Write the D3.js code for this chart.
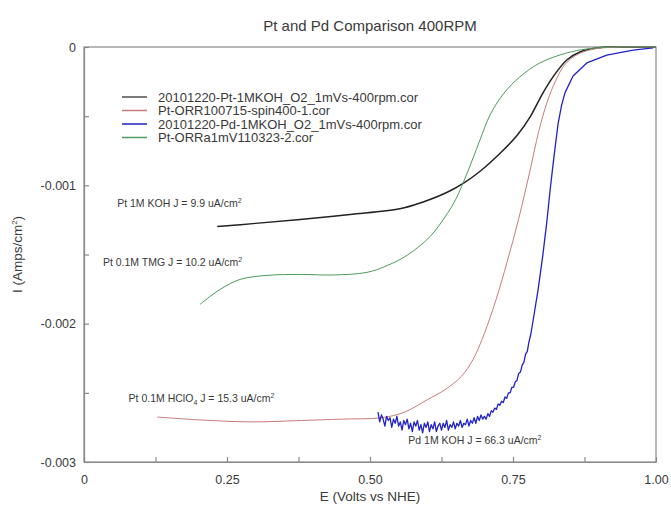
<!DOCTYPE html>
<html>
<head>
<meta charset="utf-8">
<script src="https://cdn.jsdelivr.net/npm/d3@7"></script>
<style>
  body { margin: 0; background: #fff; }
  svg text { font-family: "Liberation Sans", Arial, sans-serif; fill: #3a3a3a; }
</style>
</head>
<body>
<div id="chart"></div>
<script>
// E (V vs NHE), I (A/cm2)
const ptKoh = [
  [0.233, -0.001298], [0.300, -0.001275], [0.378, -0.001247], [0.465, -0.001211],
  [0.552, -0.001170], [0.593, -0.001120], [0.635, -0.001050], [0.665, -0.000980],
  [0.692, -0.000900], [0.727, -0.000770], [0.757, -0.000640], [0.780, -0.000505],
  [0.802, -0.000335], [0.820, -0.000216], [0.844, -0.000094], [0.867, -0.000036],
  [0.897, -0.000007], [0.937, 0], [1.0, 0]
];
const ptHclo4 = [
  [0.128, -0.002675], [0.200, -0.002695], [0.290, -0.002710], [0.380, -0.002700],
  [0.450, -0.002690], [0.520, -0.002680], [0.560, -0.002640], [0.600, -0.002550],
  [0.630, -0.002480], [0.660, -0.002380], [0.680, -0.002260], [0.700, -0.002070],
  [0.720, -0.001830], [0.740, -0.001550], [0.760, -0.001240], [0.780, -0.000890],
  [0.795, -0.000610], [0.810, -0.000394], [0.825, -0.000240], [0.840, -0.000130],
  [0.860, -0.000060], [0.890, -0.000015], [0.940, 0], [1.0, 0]
];
const pdKoh = [
  [0.514, -0.00264], [0.517, -0.00271], [0.520, -0.00266], [0.523, -0.00269], [0.526, -0.00274],
  [0.529, -0.00267], [0.532, -0.00270], [0.535, -0.00268], [0.538, -0.00275], [0.541, -0.00269],
  [0.544, -0.00272], [0.547, -0.00267], [0.550, -0.00274], [0.553, -0.00271], [0.556, -0.00277],
  [0.559, -0.00270], [0.562, -0.00273], [0.565, -0.00269], [0.568, -0.00276], [0.571, -0.00272],
  [0.574, -0.00278], [0.577, -0.00271], [0.580, -0.00274], [0.583, -0.00270], [0.586, -0.00277],
  [0.589, -0.00273], [0.592, -0.00279], [0.595, -0.00272], [0.598, -0.00275], [0.601, -0.00271],
  [0.604, -0.00278], [0.607, -0.00273], [0.610, -0.00276], [0.613, -0.00271], [0.616, -0.00278],
  [0.619, -0.00274], [0.622, -0.00272], [0.625, -0.00277], [0.628, -0.00272], [0.631, -0.00275],
  [0.634, -0.00270], [0.637, -0.00277], [0.640, -0.00273], [0.643, -0.00275], [0.646, -0.00271],
  [0.649, -0.00276], [0.652, -0.00272], [0.655, -0.00274], [0.658, -0.00270], [0.661, -0.00275],
  [0.664, -0.00272], [0.667, -0.00273], [0.670, -0.00269], [0.673, -0.00274], [0.676, -0.00270],
  [0.679, -0.00272], [0.682, -0.00268], [0.685, -0.00272], [0.688, -0.00267], [0.691, -0.00270],
  [0.694, -0.00266], [0.697, -0.00269], [0.700, -0.00267], [0.703, -0.00269], [0.706, -0.00265],
  [0.709, -0.00267], [0.712, -0.00263], [0.715, -0.00264], [0.718, -0.00261], [0.721, -0.00262],
  [0.724, -0.00258], [0.727, -0.00259], [0.730, -0.00256], [0.733, -0.00257], [0.736, -0.00253],
  [0.739, -0.00254], [0.742, -0.00250], [0.745, -0.00250], [0.748, -0.00246], [0.751, -0.00246],
  [0.754, -0.00242], [0.757, -0.00241], [0.760, -0.00236], [0.763, -0.00235], [0.766, -0.00230],
  [0.769, -0.00228], [0.772, -0.00222], [0.775, -0.00220], [0.778, -0.00213], [0.781, -0.00208],
  [0.787, -0.00193], [0.794, -0.00175], [0.802, -0.00151], [0.809, -0.00127], [0.815, -0.00103],
  [0.820, -0.00085], [0.825, -0.00068], [0.829, -0.00055], [0.835, -0.00042], [0.841, -0.00033],
  [0.855, -0.00021], [0.879, -0.000115], [0.914, -0.000058], [0.960, -0.000022], [0.995, -0.000007]
];
const ptTmg = [
  [0.203, -0.001860], [0.238, -0.001752], [0.273, -0.001680], [0.320, -0.001651],
  [0.378, -0.001644], [0.435, -0.001648], [0.495, -0.001629], [0.530, -0.001580],
  [0.565, -0.001505], [0.605, -0.001370], [0.635, -0.001205], [0.650, -0.001100],
  [0.670, -0.000910], [0.692, -0.000675], [0.710, -0.000490], [0.733, -0.000340],
  [0.762, -0.000216], [0.797, -0.000115], [0.844, -0.000043], [0.879, -0.000014],
  [0.925, 0], [1.0, 0]
];

const seriesNames = [
  '20101220-Pt-1MKOH_O2_1mVs-400rpm.cor',
  'Pt-ORR100715-spin400-1.cor',
  '20101220-Pd-1MKOH_O2_1mVs-400rpm.cor',
  'Pt-ORRa1mV110323-2.cor'
];
const seriesData = [ptKoh, ptHclo4, pdKoh, ptTmg];
const seriesColors = ['#222222', '#c77c7c', '#2222c6', '#4f9a5e'];
const seriesWidths = [1.5, 1, 1.3, 1];

const xTicks = [0, 0.25, 0.5, 0.75, 1.0];
const xTickLabels = ['0', '0.25', '0.50', '0.75', '1.00'];
const xMinor = [0.125, 0.375, 0.625, 0.875];
const yTicks = [0, -0.001, -0.002, -0.003];
const yTickLabels = ['0', '-0.001', '-0.002', '-0.003'];
const yMinor = [-0.0005, -0.0015, -0.0025];

// annotations: anchor point plus text pieces (plain / sub / sup)
const notes = [
  {x: 0.058, y: -0.001157, parts: [['Pt 1M KOH J = 9.9 uA/cm', ''], ['2', 'sup']]},
  {x: 0.033, y: -0.001583, parts: [['Pt 0.1M TMG J = 10.2 uA/cm', ''], ['2', 'sup']]},
  {x: 0.078, y: -0.002566, parts: [['Pt 0.1M HClO', ''], ['4', 'sub'], [' J = 15.3 uA/cm', ''], ['2', 'sup']]},
  {x: 0.567, y: -0.002870, parts: [['Pd 1M KOH J = 66.3 uA/cm', ''], ['2', 'sup']]}
];

const width = 671, height = 505;
const margin = {left: 84, top: 47, right: 15, bottom: 43};
const w = width - margin.left - margin.right;
const h = height - margin.top - margin.bottom;

const svg = d3.select('#chart').append('svg')
  .attr('width', width)
  .attr('height', height);

const g = svg.append('g')
  .attr('transform', `translate(${margin.left}, ${margin.top})`);

const x = d3.scaleLinear().domain([0, 1]).range([0, w]);
const y = d3.scaleLinear().domain([-0.003, 0]).range([h, 0]);

// frame
g.append('rect')
  .attr('width', w).attr('height', h)
  .attr('fill', 'none').attr('stroke', '#8a8a8a').attr('stroke-width', 1.2);

// axes, ticks pointing inward
const xAxis = g.append('g')
  .attr('transform', `translate(0, ${h})`)
  .call(d3.axisBottom(x).tickValues(xTicks.concat(xMinor)).tickSize(-5).tickSizeOuter(0)
    .tickFormat(d => { const i = xTicks.indexOf(d); return i < 0 ? '' : xTickLabels[i]; }));
xAxis.selectAll('text').attr('dy', '1.55em').attr('font-size', 12.5);

const yAxis = g.append('g')
  .call(d3.axisLeft(y).tickValues(yTicks.concat(yMinor)).tickSize(-5).tickSizeOuter(0)
    .tickFormat(d => { const i = yTicks.indexOf(d); return i < 0 ? '' : yTickLabels[i]; }));
yAxis.selectAll('text').attr('x', -8).attr('font-size', 12.5);

svg.selectAll('.domain, .tick line').attr('stroke', '#8a8a8a').attr('stroke-width', 1.2);
svg.selectAll('.tick text').style('fill', '#3a3a3a');

// curves
const line = d3.line().x(d => x(d[0])).y(d => y(d[1]));
seriesData.forEach((data, i) => {
  g.append('path')
    .datum(data)
    .attr('fill', 'none')
    .attr('stroke', seriesColors[i])
    .attr('stroke-width', seriesWidths[i])
    .attr('stroke-linejoin', 'round')
    .attr('d', line.curve(i === 2 ? d3.curveLinear : d3.curveCatmullRom.alpha(0.5)));
});

// legend
const legend = g.append('g').attr('transform', 'translate(38, 50)');
seriesNames.forEach((name, i) => {
  const row = legend.append('g').attr('transform', `translate(0, ${i * 13.5})`);
  row.append('line')
    .attr('x1', 0).attr('x2', 25)
    .attr('stroke', seriesColors[i]).attr('stroke-width', i === 0 ? 1.2 : 1.5);
  row.append('text')
    .attr('x', 36).attr('dy', '0.35em')
    .attr('font-size', 13)
    .text(name);
});

// annotations
notes.forEach(n => {
  const t = g.append('text')
    .attr('x', x(n.x)).attr('y', y(n.y))
    .attr('font-size', 10.5);
  n.parts.forEach((p, j) => {
    const s = t.append('tspan').text(p[0]);
    if (p[1] === 'sup') s.attr('font-size', 7).attr('dy', -4);
    if (p[1] === 'sub') s.attr('font-size', 7).attr('dy', 3);
    if (p[1] === '' && j > 0) s.attr('dy', -3);
  });
});

// title and axis labels
svg.append('text')
  .attr('x', margin.left + w / 2).attr('y', 31)
  .attr('text-anchor', 'middle').attr('font-size', 15)
  .text('Pt and Pd Comparison 400RPM');

svg.append('text')
  .attr('x', margin.left + w / 2).attr('y', 501)
  .attr('text-anchor', 'middle').attr('font-size', 13.5)
  .text('E (Volts vs NHE)');

const yl = svg.append('text')
  .attr('transform', `translate(22, ${margin.top + h / 2}) rotate(-90)`)
  .attr('text-anchor', 'middle').attr('font-size', 13.5);
yl.append('tspan').text('I (Amps/cm');
yl.append('tspan').text('2').attr('font-size', 8).attr('dy', -5);
yl.append('tspan').text(')').attr('font-size', 13.5).attr('dy', 5);
</script>
</body>
</html>
